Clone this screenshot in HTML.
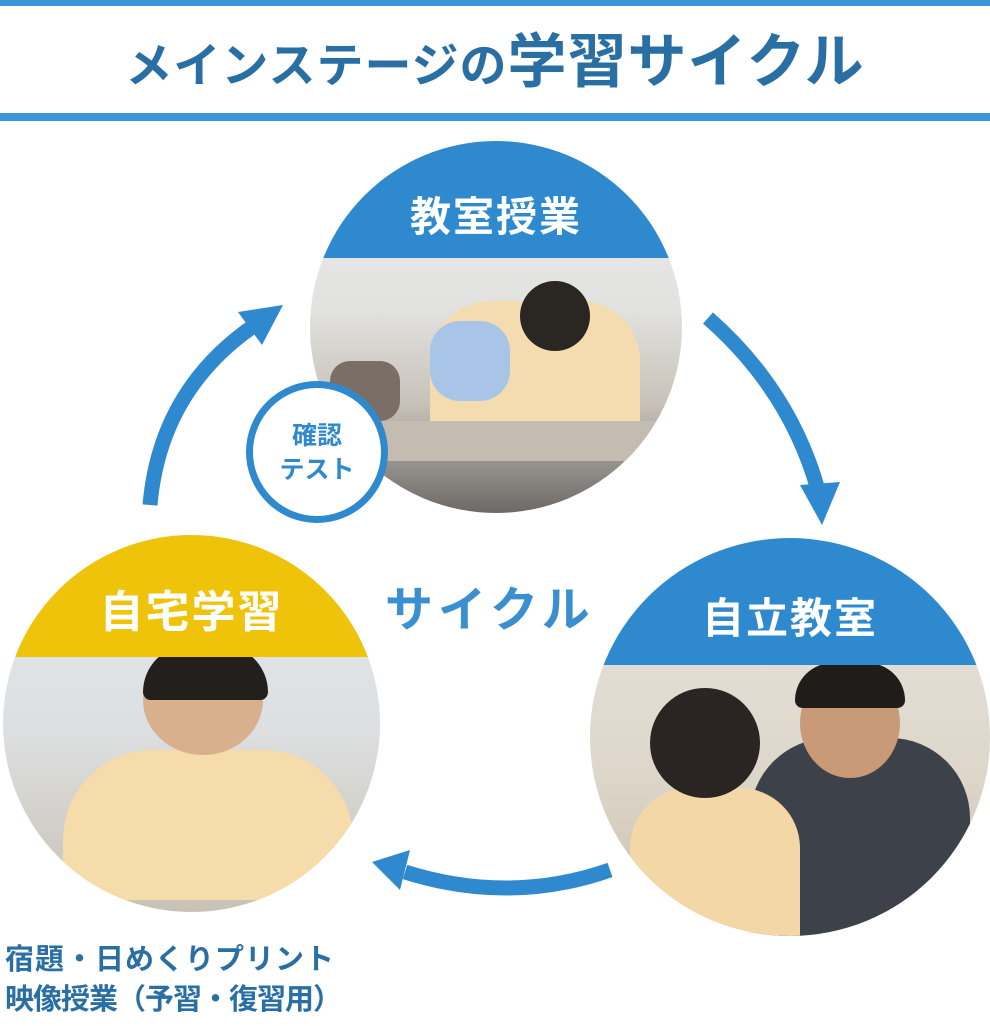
<!DOCTYPE html>
<html><head><meta charset="utf-8"><style>
body{margin:0;width:990px;height:1026px;background:#fff;position:relative;overflow:hidden;font-family:"Liberation Sans","Noto Sans CJK JP",sans-serif}
.bar{position:absolute;left:0;width:990px;background:#3a96d8}
.title{position:absolute;top:22px;left:0;width:990px;text-align:center;color:#2a6fa3;font-weight:bold;white-space:nowrap;line-height:80px}
.t1{font-size:47px;letter-spacing:1px}
.t2{font-size:59px;letter-spacing:1px}
.circ{position:absolute;border-radius:50%;overflow:hidden}
.cap{position:absolute;left:0;width:100%;color:#fff;font-weight:bold;text-align:center;letter-spacing:2px}
.lbl{position:absolute;font-weight:bold;color:#2a6fa3;font-size:29px;line-height:40px;white-space:nowrap}
</style></head><body>
<div class="bar" style="top:0;height:6px"></div>
<div class="bar" style="top:113px;height:8px"></div>
<div class="title"><span class="t1">メインステージの</span><span class="t2">学習サイクル</span></div>

<div class="circ" style="left:310px;top:141px;width:372px;height:372px;background:linear-gradient(#e9ecee 0,#e2e2e0 45%,#c9c3ba 70%,#6c6a68 100%)">
  <div style="position:absolute;left:120px;top:160px;width:210px;height:140px;background:#f5dcb0;border-radius:60px 60px 10px 10px"></div>
  <div style="position:absolute;left:210px;top:140px;width:70px;height:70px;background:#2a2622;border-radius:50%"></div>
  <div style="position:absolute;left:120px;top:180px;width:80px;height:80px;background:#a8c4e6;border-radius:30px"></div>
  <div style="position:absolute;left:20px;top:220px;width:70px;height:60px;background:#7a6e66;border-radius:20px"></div>
  <div style="position:absolute;left:60px;top:280px;width:320px;height:40px;background:#c4bcb0"></div>
  <div class="cap" style="top:0;height:117px;background:#2e89ce;font-size:41px;line-height:41px"><div style="margin-top:56px">教室授業</div></div>
</div>
<div style="position:absolute;left:246px;top:381px;width:128px;height:128px;border:7px solid #2e89ce;border-radius:50%;background:#fff;color:#2e89ce;font-weight:bold;font-size:25px;line-height:34px;text-align:center">
  <div style="margin-top:31px">確認<br>テスト</div></div>

<div class="circ" style="left:3px;top:535px;width:377px;height:377px;background:linear-gradient(#e4e7ea 0,#dde0e2 50%,#c9c1b5 100%)">
  <div style="position:absolute;left:60px;top:215px;width:290px;height:150px;background:#f6dcaa;border-radius:90px 90px 10px 10px"></div>
  <div style="position:absolute;left:140px;top:110px;width:120px;height:110px;background:#d9b08e;border-radius:50%"></div>
  <div style="position:absolute;left:140px;top:110px;width:125px;height:55px;background:#231f1c;border-radius:60px 60px 10px 10px"></div>
  <div class="cap" style="top:0;height:122px;background:#f0c30b;font-size:44px;line-height:44px"><div style="margin-top:56px">自宅学習</div></div>
</div>

<div class="circ" style="left:590px;top:538px;width:400px;height:398px;background:linear-gradient(#e8e6e1 0,#ddd6c9 60%,#c8bda9 100%)">
  <div style="position:absolute;left:160px;top:200px;width:220px;height:220px;background:#3d4149;border-radius:80px 80px 0 0"></div>
  <div style="position:absolute;left:210px;top:130px;width:100px;height:110px;background:#c99a78;border-radius:50%"></div>
  <div style="position:absolute;left:205px;top:125px;width:110px;height:45px;background:#1f1c1a;border-radius:50px 50px 10px 10px"></div>
  <div style="position:absolute;left:40px;top:250px;width:170px;height:160px;background:#f3d7a6;border-radius:60px 60px 0 0"></div>
  <div style="position:absolute;left:60px;top:150px;width:110px;height:110px;background:#2a2522;border-radius:50%"></div>
  <div class="cap" style="top:0;height:127px;background:#2e89ce;font-size:42px;line-height:42px"><div style="margin-top:60px">自立教室</div></div>
</div>

<div style="position:absolute;left:385px;top:570px;font-size:48px;font-weight:bold;color:#3a8fd0;letter-spacing:5px">サイクル</div>

<svg width="990" height="1026" style="position:absolute;left:0;top:0" viewBox="0 0 990 1026">
  <g fill="none" stroke="#2e89ce" stroke-width="15">
    <path d="M150 505 Q160 390 255 325"/>
    <path d="M708 318 Q790 390 818 490"/>
    <path d="M610 870 Q510 905 405 872"/>
  </g>
  <g fill="#2e89ce">
    <polygon points="283,305 238,312 262,345"/>
    <polygon points="822,525 800,485 840,482"/>
    <polygon points="372,862 410,850 400,890"/>
  </g>
</svg>

<div class="lbl" style="left:5px;top:940px;letter-spacing:1px">宿題・日めくりプリント</div>
<div class="lbl" style="left:5px;top:980px;letter-spacing:-1px">映像授業（予習・復習用）</div>
</body></html>
